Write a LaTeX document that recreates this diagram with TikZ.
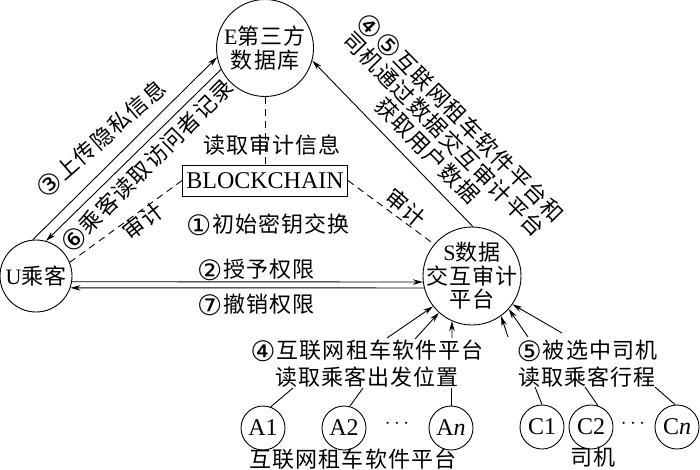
\documentclass[tikz,border=0pt]{standalone}
\usepackage{fontspec}
\setmainfont{Liberation Serif}
\newfontfamily\cjk[LetterSpace=5]{Noto Sans CJK SC}
\newfontfamily\djv{DejaVu Sans}
\newcommand{\zh}[1]{{\cjk #1}}
\newcommand{\cn}[1]{\raisebox{-0.13em}{\scalebox{1.28}{\djv #1}}\hspace{0.05em}}
\usetikzlibrary{arrows.meta,calc}
\begin{document}
\begin{tikzpicture}[x=1pt,y=-1pt,
  every node/.style={font=\fontsize{22}{23.5}\selectfont, inner sep=0pt},
  big/.style={circle, draw, line width=0.9pt, inner sep=0pt},
  small/.style={circle, draw, line width=0.9pt, minimum size=44pt, inner sep=0pt, font=\fontsize{24}{24}\selectfont},
  txt/.style={align=center},
  conn/.style={line width=0.9pt},
  arr/.style={conn, -{Stealth[length=10pt,width=5.5pt]}},
  dsh/.style={conn, dash pattern=on 7pt off 5pt},
]
\useasboundingbox (0,0) rectangle (700,470);

% main circles
\node[big, minimum size=97pt, label={[txt]center:{E\zh{第三方}\\\zh{数据库}}}] (E) at (265,48) {};
\node[big, minimum size=72pt, label={center:{U\zh{乘客}}}] (U) at (36,276) {};
\node[big, minimum size=98pt, label={[txt]center:{S\zh{数据}\\\zh{交互审计}\\\zh{平台}}}] (S) at (472,276) {};

% blockchain box
\node[draw, conn, minimum width=165pt, minimum height=31pt, font=\fontsize{24}{24}\selectfont] (B) at (265,180.5) {BLOCKCHAIN};

% labels
\node (tread) at (272,145) {\zh{读取审计信息}};
\node (tinit) at (268,225) {\cn{①}\zh{初始密钥交换}};
\node (tgrant) at (256,270) {\cn{②}\zh{授予权限}};
\node (trevoke) at (256,305) {\cn{⑦}\zh{撤销权限}};
\node[rotate=41] (tup) at (101,139) {\cn{③}\zh{上传隐私信息}};
\node[rotate=45] (tacc) at (147,166) {\cn{⑥}\zh{乘客读取访问者记录}};
\node[rotate=38] (aud1) at (143,221) {\zh{审计}};
\node[rotate=-40] (aud2) at (406,208) {\zh{审计}};
\node[txt, rotate=-45.5] (tright) at (444,134) {\cn{④}\cn{⑤}\zh{互联网租车软件平台和}\\\zh{司机通过数据交互审计平台}\\\zh{获取用户数据}};
\node[txt, font=\fontsize{22}{26.5}\selectfont] (t4) at (367,363.5) {\cn{④}\zh{互联网租车软件平台}\\\zh{读取乘客出发位置}};
\node[txt, font=\fontsize{22}{26.5}\selectfont] (t5) at (587,363.5) {\cn{⑤}\zh{被选中司机}\\\zh{读取乘客行程}};

% small circles
\node[small] (A1) at (263,428) {A1};
\node[small] (A2) at (344,428) {A2};
\node[small] (An) at (451,428) {A\textit{n}};
\node (dA) at (397,424) {$\cdots$};
\node[small] (C1) at (542,427) {C1};
\node[small] (C2) at (591,427) {C2};
\node[small] (Cn) at (677,427) {C\textit{n}};
\node (dC) at (633,424) {$\cdots$};
\node (lA) at (353,459) {\zh{互联网租车软件平台}};
\node (lC) at (593,457) {\zh{司机}};

% main connectors
\draw[arr] (U.95) -- (E.191);
\draw[arr] (E.206) -- (U.74);
\draw[arr] (S.89) -- (E.-15.6);
\draw[arr] (U.-9.6) -- (S.187);
\draw[arr] (S.194.2) -- (U.-19.5);
\draw[dsh] (E.south) -- (B.north);
\draw[dsh] (B.west) -- (U.22);
\draw[dsh] (B.east) -- (S.140);

% arrows from bottom texts into S
\coordinate (s41) at (387,338);
\coordinate (s42) at (415,339);
\coordinate (s43) at (452,338);
\coordinate (s51) at (508,337);
\coordinate (s52) at (528,337);
\coordinate (s53) at (562,333);
\draw[arr] (s41) -- (S.218.7);
\draw[arr] (s42) -- (S.228);
\draw[arr] (s43) -- (S.246.5);
\draw[arr] (s51) -- (S.306);
\draw[arr] (s52) -- (S.318.7);
\draw[arr] (s53) -- (S.325);

% lines from small circles to texts
\coordinate (a1) at (293,388);
\coordinate (a2) at (363,388);
\coordinate (an) at (451,388);
\coordinate (c1) at (535,387);
\coordinate (c2) at (585,387);
\coordinate (cn) at (655,387);
\draw[conn] (A1.70) -- (a1);
\draw[conn] (A2.75) -- (a2);
\draw[conn] (An.90) -- (an);
\draw[conn] (C1.90) -- (c1);
\draw[conn] (C2.72) -- (c2);
\draw[conn] (Cn.95) -- (cn);
\end{tikzpicture}
\end{document}
